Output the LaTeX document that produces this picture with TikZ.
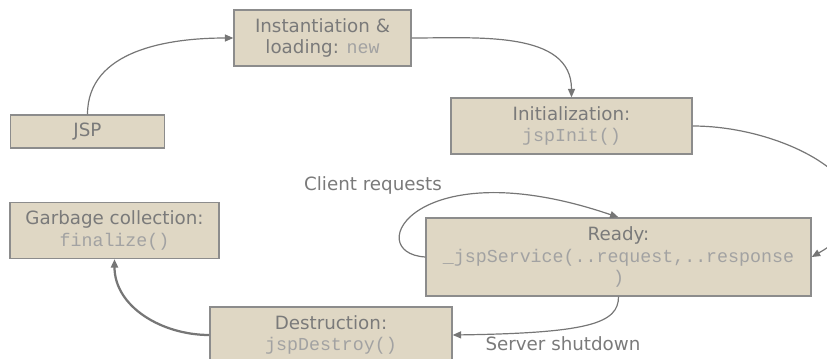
\documentclass[tikz,border=0pt]{standalone}
\usepackage{fontspec}
\setmainfont{DejaVu Sans}
\setmonofont{Liberation Mono}
\usetikzlibrary{arrows.meta}
\definecolor{boxfill}{HTML}{DFD7C4}
\definecolor{boxline}{HTML}{8C8C8C}
\definecolor{txtgray}{HTML}{7A7A7A}
\definecolor{codegray}{HTML}{A2A2A2}
\definecolor{linegray}{HTML}{767676}
\newcommand{\code}[1]{{\ttfamily\color{codegray}#1}}

\begin{document}
\begin{tikzpicture}[x=0.025cm,y=0.025cm,
	every node/.style={align=center,font=\fontsize{13}{15.5}\selectfont,text=txtgray},
	box/.style={draw=boxline,fill=boxfill,line width=0.9pt,inner sep=0pt},
	flow/.style={draw=linegray,line width=0.85pt,-{Stealth[length=6pt,width=5pt,inset=0pt]}}]
	\useasboundingbox(0,0)rectangle(827,358);
	\node[box,minimum width=3.85cm,minimum height=0.825cm](jsp)at(87.5,226.5){JSP};
	\node[box,minimum width=4.425cm,minimum height=1.4cm](inst)at(322.5,320){Instantiation \&\\loading: \code{new}};
	\node[box,minimum width=6.025cm,minimum height=1.4cm](init)at(571.5,232){Initialization:\\\code{jspInit()}};
	\node[box,minimum width=5.225cm,minimum height=1.4cm](garb)at(114.5,127.5){Garbage collection:\\\code{finalize()}};
	\node[box,minimum width=9.625cm,minimum height=1.95cm](ready)at(618.5,101){Ready:\\\code{\_jspService(..request,..response}\\\code{)}};
	\node[box,minimum width=6.05cm,minimum height=1.4cm](destr)at(331,23){Destruction:\\\code{jspDestroy()}};
	\node(client)at(373,173){Client requests};
	\node(shut)at(563,14){Server shutdown};
	\draw[flow](jsp.north)to[out=90,in=180](inst.west);
	\draw[flow](inst.east)to[out=0,in=90](init.north);
	\draw[flow](init.east)..controls(795,232)and(915,160)..(ready.east);
	\draw[flow](ready.west)..controls(360,105)and(415,210)..(ready.north);
	\draw[flow](ready.south)..controls(618.5,35)and(590,25)..(destr.east);
	\draw[flow,line width=1.6pt](destr.west)to[out=180,in=-90](garb.south);
\end{tikzpicture}
\end{document}
